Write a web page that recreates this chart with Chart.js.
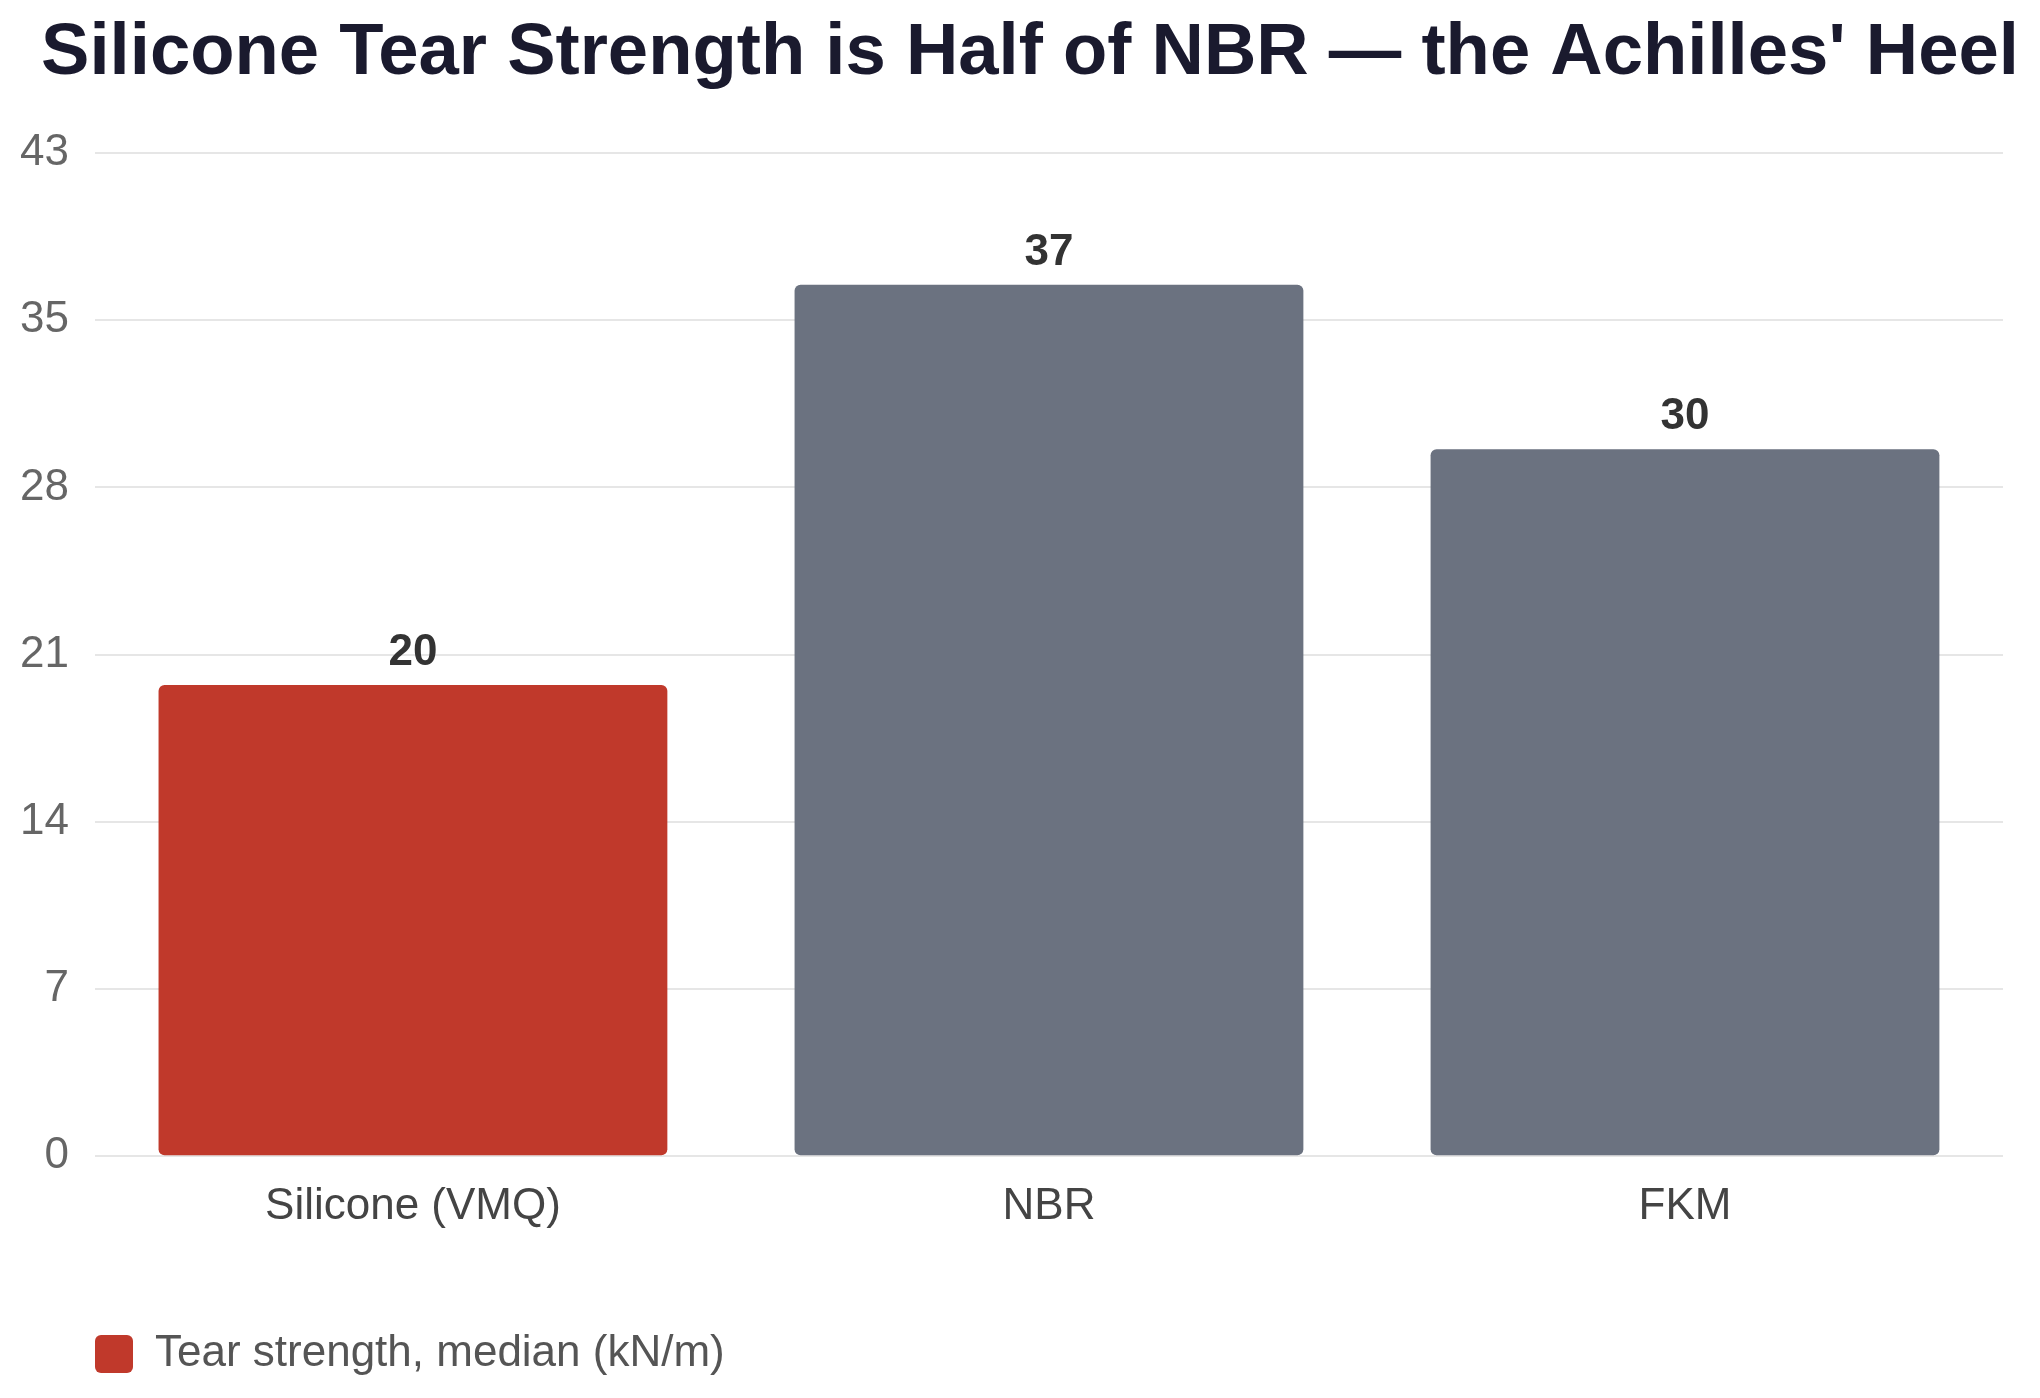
<!DOCTYPE html>
<html>
<head>
<meta charset="utf-8">
<title>Silicone Tear Strength</title>
<script src="https://cdn.jsdelivr.net/npm/chart.js@4.4.1/dist/chart.umd.min.js"></script>
<style>
  html, body { margin: 0; padding: 0; background: #fff; }
  #wrap { width: 2040px; height: 1398px; position: relative; }
</style>
</head>
<body>
<div id="wrap"><canvas id="tearChart"></canvas></div>
<script>
// data
const categories = ["Silicone (VMQ)", "NBR", "FKM"];
const tearStrength = [20.2, 37.35, 30.3];
const seriesLabel = "Tear strength, median (kN/m)";
const yMax = 43;
const yTickCount = 7;

const RED = "#c0392b";
const GREY = "#6b7280";
const barColors = categories.map((c, i) => i === 0 ? RED : GREY);

Chart.defaults.font.family = "'Liberation Sans', Arial, Helvetica, sans-serif";

// value labels above the bars
const valueLabels = {
    id: "valueLabels",
    afterDatasetsDraw(chart) {
        const ctx = chart.ctx;
        const meta = chart.getDatasetMeta(0);
        ctx.save();
        ctx.font = "bold 44px 'Liberation Sans', Arial, sans-serif";
        ctx.fillStyle = "#333333";
        ctx.textAlign = "center";
        ctx.textBaseline = "alphabetic";
        meta.data.forEach((bar, i) => {
            const v = chart.data.datasets[0].data[i];
            ctx.fillText(Math.round(v).toString(), bar.x, bar.y - 20);
        });
        ctx.restore();
    }
};

new Chart(document.getElementById("tearChart"), {
    type: "bar",
    data: {
        labels: categories,
        datasets: [{
            label: seriesLabel,
            data: tearStrength,
            backgroundColor: barColors,
            borderRadius: 6,
            borderSkipped: false,
            barPercentage: 0.8,
            categoryPercentage: 1.0
        }]
    },
    options: {
        responsive: true,
        maintainAspectRatio: false,
        devicePixelRatio: 1,
        animation: false,
        layout: { padding: { left: 20, right: 0, top: 0, bottom: 12 } },
        scales: {
            x: {
                grid: { display: false, drawTicks: false },
                border: { display: false },
                ticks: { color: "#444444", padding: 24, font: { size: 44 } }
            },
            y: {
                min: 0,
                max: yMax,
                grid: { color: "#e6e6e6", lineWidth: 2, drawTicks: true, tickLength: 26, tickColor: "rgba(0,0,0,0)" },
                border: { display: false },
                ticks: {
                    count: yTickCount,
                    color: "#666666",
                    padding: 0,
                    font: { size: 44 },
                    callback: v => Math.floor(v)
                }
            },
            // empty right margin
            yRight: {
                position: "right",
                grid: { display: false, drawTicks: false },
                border: { display: false },
                ticks: { display: false },
                afterFit(scale) { scale.width = 37; }
            }
        },
        plugins: {
            title: {
                display: true,
                text: "Silicone Tear Strength is Half of NBR \u2014 the Achilles' Heel",
                color: "#1a1a2e",
                font: { size: 72.5, weight: "bold" },
                padding: { top: 10, bottom: 56 }
            },
            legend: {
                position: "bottom",
                align: "start",
                labels: {
                    color: "#555555",
                    font: { size: 44 },
                    boxWidth: 38,
                    boxHeight: 38,
                    padding: 75,
                    useBorderRadius: true,
                    borderRadius: 6,
                    generateLabels: chart =>
                        Chart.defaults.plugins.legend.labels.generateLabels(chart).map(l => ({
                            ...l, fillStyle: RED, strokeStyle: RED, lineWidth: 0
                        }))
                }
            },
            tooltip: { enabled: false }
        }
    },
    plugins: [valueLabels]
});
</script>
</body>
</html>
